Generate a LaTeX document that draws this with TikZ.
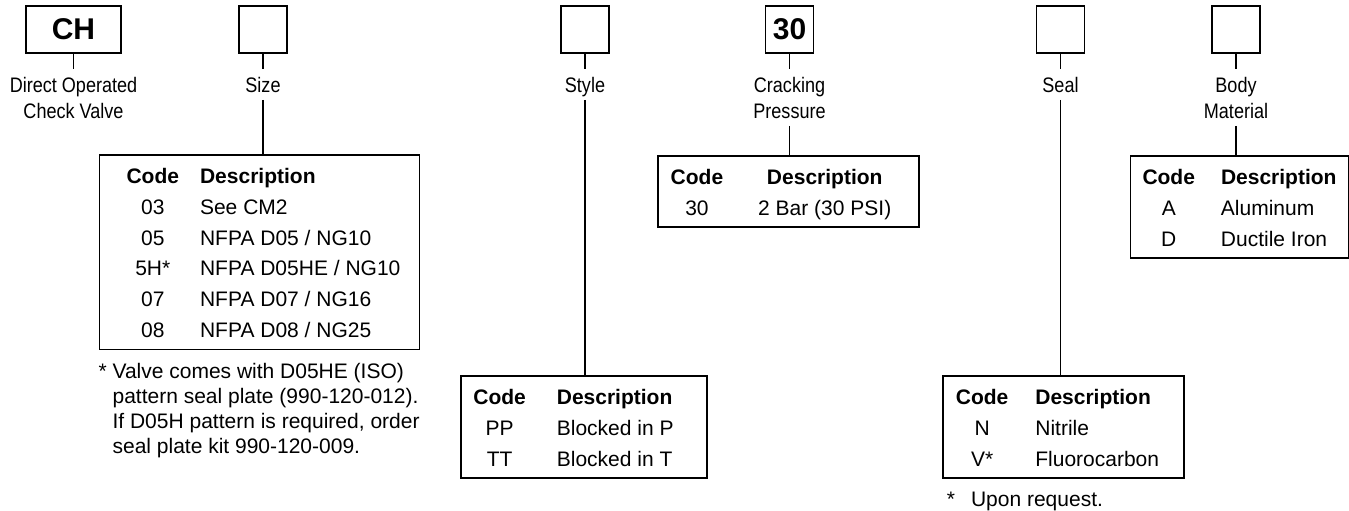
\documentclass[tikz,border=0pt]{standalone}
\usepackage{fontspec}
\setmainfont{Liberation Sans}
\newfontfamily\condfont[FakeStretch=0.86]{Liberation Sans}
\usetikzlibrary{positioning}
\newcommand{\tabhead}{\textbf{Code} & \textbf{Description}\rule{0pt}{12.9pt}\\}
\tikzset{
	node distance=7.5pt,
	codebox/.style={draw, minimum width=24pt, minimum height=23.5pt, inner sep=0pt, font=\bfseries\fontsize{15}{18}\selectfont},
	partname/.style={align=center, inner xsep=0pt, inner ysep=3.5pt, text depth=0pt, font=\condfont\fontsize{10.5}{13}\selectfont},
	codetab/.style={draw, inner xsep=0pt, inner ysep=1.4pt, font=\fontsize{10.5}{15.4}\selectfont},
	note/.style={align=left, inner sep=0pt, font=\fontsize{10.5}{12.5}\selectfont}
}

\begin{document}
\begin{tikzpicture}[x=0.5pt, y=-0.5pt, line width=0.9pt]
	\useasboundingbox (0,0) rectangle (1349,510);
	\node[codebox, minimum width=47.5pt] (ch) at (73.5,29.5) {CH};
	\node[codebox] (size)  at (263,29.5)    {};
	\node[codebox] (style) at (585,29.5)    {};
	\node[codebox] (press) at (789.5,29.5)  {30};
	\node[codebox] (seal)  at (1060.5,29.5) {};
	\node[codebox] (body)  at (1236,29.5)   {};
	% what each box stands for
	\node[partname, below=of ch]    (chname)    {Direct Operated\\Check Valve};
	\node[partname, below=of size]  (sizename)  {Size};
	\node[partname, below=of style] (stylename) {Style};
	\node[partname, below=of press] (pressname) {Cracking\\Pressure};
	\node[partname, below=of seal]  (sealname)  {Seal};
	\node[partname, below=of body]  (bodyname)  {Body\\Material};
	% code tables
	\node[codetab, below=27pt of sizename, xshift=-1.75pt] (sizetab) {\begin{tabular}{@{\hspace{13.5pt}}c@{\hspace{10.5pt}}l@{\hspace{9.5pt}}}
		\tabhead
		03 & See CM2\\
		05 & NFPA D05 / NG10\\
		5H* & NFPA D05HE / NG10\\
		07 & NFPA D07 / NG16\\
		08 & NFPA D08 / NG25
	\end{tabular}};
	\node[codetab, below=137.5pt of stylename, xshift=-0.5pt] (styletab) {\begin{tabular}{@{\hspace{6pt}}c@{\hspace{15.5pt}}l@{\hspace{16.5pt}}}
		\tabhead
		PP & Blocked in P\\
		TT & Blocked in T
	\end{tabular}};
	\node[codetab, below=14.5pt of pressname, xshift=-0.5pt] (presstab) {\begin{tabular}{@{\hspace{6.5pt}}c@{\hspace{17.5pt}}c@{\hspace{14pt}}}
		\tabhead
		30 & 2 Bar (30 PSI)
	\end{tabular}};
	\node[codetab, below=137.5pt of sealname, xshift=1.5pt] (sealtab) {\begin{tabular}{@{\hspace{6.5pt}}c@{\hspace{13.5pt}}l@{\hspace{12.5pt}}}
		\tabhead
		N & Nitrile\\
		V* & Fluorocarbon
	\end{tabular}};
	\node[codetab, below=14.5pt of bodyname, xshift=1.75pt] (bodytab) {\begin{tabular}{@{\hspace{6pt}}c@{\hspace{13pt}}l@{\hspace{6pt}}}
		\tabhead
		A & Aluminum\\
		D & Ductile Iron
	\end{tabular}};
	% footnotes
	\node[note, below right=6pt and -0.5pt of sizetab.south west] (sizenote) {* Valve comes with D05HE (ISO)\\\hphantom{*\ }pattern seal plate (990-120-012).\\\hphantom{*\ }If D05H pattern is required, order\\\hphantom{*\ }seal plate kit 990-120-009.};
	\node[note, below right=6pt and 2pt of sealtab.south west] (sealnote) {*\hspace{8pt}Upon request.};
	\draw
	(ch) -- (chname)
	(size) -- (sizename)
	(style) -- (stylename)
	(press) -- (pressname)
	(seal) -- (sealname)
	(body) -- (bodyname)
	(sizename) -- (sizename |- sizetab.north)
	(stylename) -- (stylename |- styletab.north)
	(pressname) -- (pressname |- presstab.north)
	(sealname) -- (sealname |- sealtab.north)
	(bodyname) -- (bodyname |- bodytab.north)
	;
\end{tikzpicture}
\end{document}
